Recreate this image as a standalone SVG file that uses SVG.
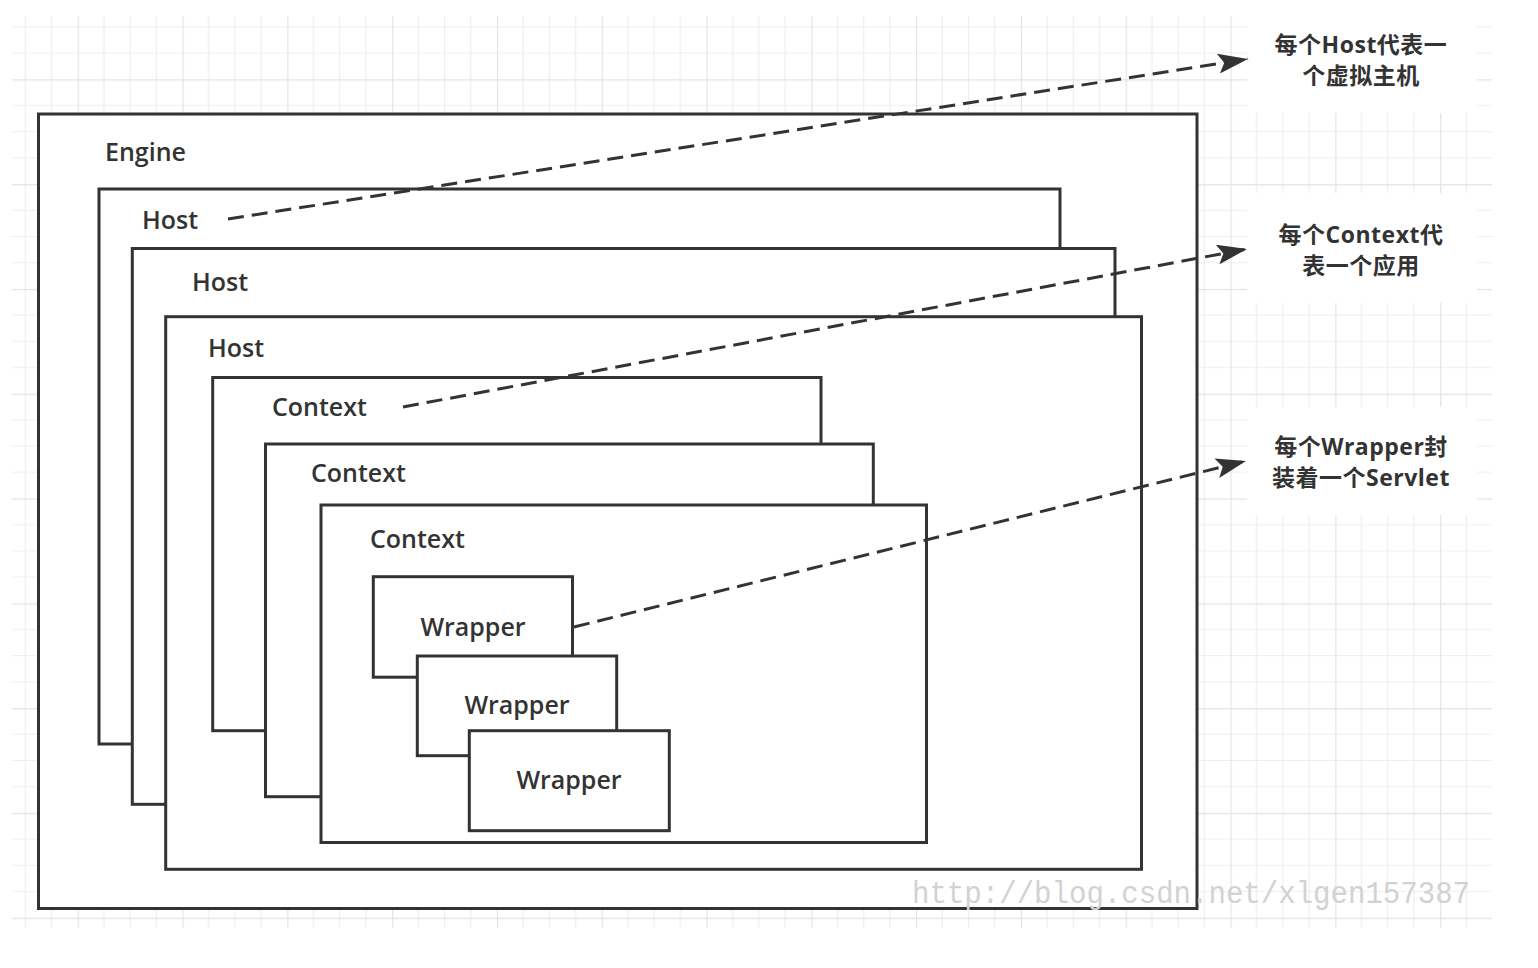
<svg xmlns="http://www.w3.org/2000/svg" width="1538" height="968" viewBox="0 0 1538 968">
  <style>
    .box { fill: #ffffff; stroke: #333333; stroke-width: 3; }
    .lbl { font-family: "Open Sans", "Noto Sans CJK SC", sans-serif; font-weight: 600; font-size: 25px; fill: #333333; }
    .note { font-family: "Open Sans", "Noto Sans CJK SC", sans-serif; font-weight: 700; font-size: 23px; letter-spacing: 0.5px; fill: #333333; text-anchor: middle; }
    .conn { fill: none; stroke: #333333; stroke-width: 3; stroke-dasharray: 16 8; }
    .wm { font-family: "Liberation Mono", monospace; font-size: 31px; fill: #d2d2d2; }
  </style>
  <defs>
    <pattern id="grid" patternUnits="userSpaceOnUse" x="-27.1" y="-25.5" width="104.8" height="104.8">
      <path d="M26.2 0V104.8M52.4 0V104.8M78.6 0V104.8M0 26.2H104.8M0 52.4H104.8M0 78.6H104.8" stroke="#eeeeee" stroke-width="1.2" fill="none"/>
      <path d="M0.6 0V104.8M0 0.6H104.8" stroke="#e3e3e3" stroke-width="1.2" fill="none"/>
    </pattern>
    <marker id="arr" markerUnits="userSpaceOnUse" viewBox="0 0 30 20" markerWidth="30" markerHeight="20" refX="30" refY="10" orient="auto">
      <path d="M30 10 L0 0 L6 10 L0 20 Z" fill="#333333"/>
    </marker>
  </defs>

  <rect width="1538" height="968" fill="#ffffff"/>
  <rect x="12" y="16" width="1480" height="912" fill="url(#grid)"/>

  <g id="note-bg" fill="#ffffff">
    <rect x="1247" y="16" width="230" height="97"/>
    <rect x="1247" y="193" width="230" height="110"/>
    <rect x="1247" y="407" width="230" height="108"/>
  </g>

  <g id="engine">
    <rect class="box" x="38.5" y="114" width="1158.5" height="794.5"/>
    <text class="lbl" x="105" y="161">Engine</text>
  </g>
  <g id="host1">
    <rect class="box" x="99" y="189" width="961" height="555"/>
    <text class="lbl" x="142" y="229">Host</text>
  </g>
  <g id="host2">
    <rect class="box" x="132.3" y="248.5" width="982.7" height="555.8"/>
    <text class="lbl" x="192" y="291">Host</text>
  </g>
  <g id="host3">
    <rect class="box" x="165.7" y="316.7" width="975.8" height="552.6"/>
    <text class="lbl" x="208" y="357">Host</text>
  </g>
  <g id="context1">
    <rect class="box" x="212.7" y="377.5" width="608.3" height="353.2"/>
    <text class="lbl" x="272" y="416">Context</text>
  </g>
  <g id="context2">
    <rect class="box" x="265.5" y="444" width="607.8" height="352.7"/>
    <text class="lbl" x="311" y="482">Context</text>
  </g>
  <g id="context3">
    <rect class="box" x="321" y="505" width="605.5" height="337.5"/>
    <text class="lbl" x="370" y="548">Context</text>
  </g>
  <g id="wrapper1">
    <rect class="box" x="373.3" y="576.7" width="199.2" height="100.5"/>
    <text class="lbl" x="473" y="636" text-anchor="middle">Wrapper</text>
  </g>
  <g id="wrapper2">
    <rect class="box" x="417.3" y="656" width="199.4" height="99.7"/>
    <text class="lbl" x="517" y="714" text-anchor="middle">Wrapper</text>
  </g>
  <g id="wrapper3">
    <rect class="box" x="469.3" y="730.7" width="200" height="100"/>
    <text class="lbl" x="569" y="789" text-anchor="middle">Wrapper</text>
  </g>

  <g id="note-host">
    <text class="note" x="1361" y="53">每个Host代表一</text>
    <text class="note" x="1361" y="84">个虚拟主机</text>
  </g>
  <g id="note-context">
    <text class="note" x="1361" y="243">每个Context代</text>
    <text class="note" x="1361" y="274">表一个应用</text>
  </g>
  <g id="note-wrapper">
    <text class="note" x="1361" y="455">每个Wrapper封</text>
    <text class="note" x="1361" y="486">装着一个Servlet</text>
  </g>

  <g id="connectors">
    <path class="conn" d="M228 219 L1248 59" marker-end="url(#arr)"/>
    <path class="conn" d="M403 407 L1247 249" marker-end="url(#arr)"/>
    <path class="conn" d="M574 627 L1246 461" marker-end="url(#arr)"/>
  </g>

  <text class="wm" x="912" y="903" textLength="558" lengthAdjust="spacingAndGlyphs">http://blog.csdn.net/xlgen157387</text>
</svg>
